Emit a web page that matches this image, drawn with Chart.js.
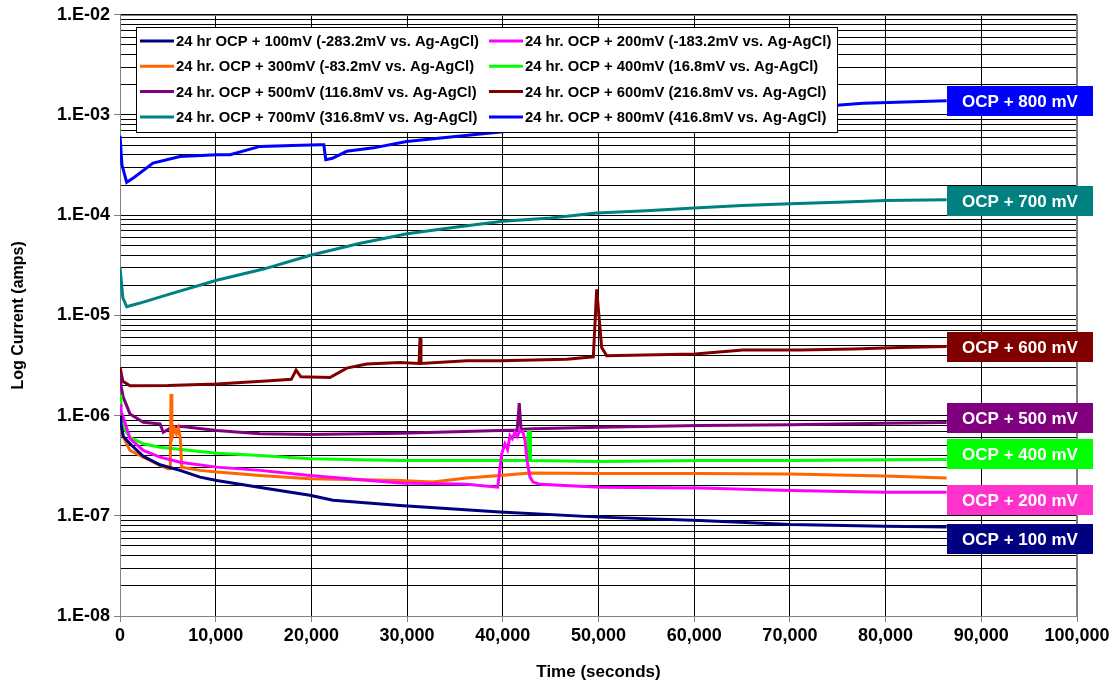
<!DOCTYPE html>
<html>
<head>
<meta charset="utf-8">
<script src="https://cdn.jsdelivr.net/npm/chart.js@4.4.1/dist/chart.umd.min.js"></script>
<style>
  html, body { margin: 0; padding: 0; background: #fff; }
  #chart { display: block; }
</style>
</head>
<body>
<canvas id="chart" width="1114" height="685"></canvas>
<script>
// ================= DATA (time in s, current in A) =================

const seriesNames = [
    '24 hr OCP + 100mV (-283.2mV vs. Ag-AgCl)',
    '24 hr. OCP + 200mV (-183.2mV vs. Ag-AgCl)',
    '24 hr. OCP + 300mV (-83.2mV vs. Ag-AgCl)',
    '24 hr. OCP + 400mV (16.8mV vs. Ag-AgCl)',
    '24 hr. OCP + 500mV (116.8mV vs. Ag-AgCl)',
    '24 hr. OCP + 600mV (216.8mV vs. Ag-AgCl)',
    '24 hr. OCP + 700mV (316.8mV vs. Ag-AgCl)',
    '24 hr. OCP + 800mV (416.8mV vs. Ag-AgCl)'
];
const seriesColors = ['#000080', '#FF00FF', '#FF6600', '#00FF00', '#800080', '#800000', '#008080', '#0000FF'];

// end-of-run tags on the right (no tag for the 300 mV run)
const tagTexts = ['OCP + 100 mV', 'OCP + 200 mV', null, 'OCP + 400 mV', 'OCP + 500 mV', 'OCP + 600 mV', 'OCP + 700 mV', 'OCP + 800 mV'];
const tagColors = ['#000080', '#FF33CC', null, '#00FF00', '#800080', '#800000', '#008080', '#0000FF'];

const t100 = [0, 100, 345, 1045, 2435, 4180, 6270, 8360, 10100, 15330, 19850, 22260, 29260, 39700, 50160, 60600, 70010, 79940, 86380];
const i100 = [1.0e-6, 8.3e-7, 6.2e-7, 5.23e-7, 3.93e-7, 3.23e-7, 2.84e-7, 2.43e-7, 2.25e-7, 1.87e-7, 1.60e-7, 1.43e-7, 1.27e-7, 1.09e-7, 9.7e-8, 9.0e-8, 8.17e-8, 7.87e-8, 7.74e-8];

const t200 = [0, 100, 345, 1045, 2435, 4180, 6270, 10100, 14630, 19850, 29260, 36230, 39470, 39880, 40230, 40500, 40750, 41000, 41270, 41500, 41800, 42110, 42320, 42530, 42840, 43160, 43890, 50160, 60600, 70010, 79940, 86380];
const i200 = [1.3e-6, 1.1e-6, 9.6e-7, 5.9e-7, 4.49e-7, 3.85e-7, 3.43e-7, 3.06e-7, 2.84e-7, 2.53e-7, 2.12e-7, 2.06e-7, 1.93e-7, 4.16e-7, 5.23e-7, 4.6e-7, 6.33e-7, 5.9e-7, 6.82e-7, 6.2e-7, 7.10e-7, 6.82e-7, 5.64e-7, 3.57e-7, 2.43e-7, 2.17e-7, 2.06e-7, 1.93e-7, 1.89e-7, 1.79e-7, 1.72e-7, 1.72e-7];

const t300 = [0, 100, 345, 1045, 2435, 4180, 5020, 5250, 5330, 5420, 5500, 5700, 5900, 6100, 6300, 6450, 8360, 10100, 14630, 19850, 29260, 32700, 36230, 39700, 42840, 50160, 60600, 70010, 79940, 86380];
const i300 = [8.3e-7, 7.0e-7, 6.08e-7, 4.49e-7, 3.85e-7, 3.18e-7, 2.94e-7, 2.94e-7, 1.64e-6, 7.65e-7, 6.3e-7, 7.4e-7, 6.6e-7, 7.5e-7, 6.0e-7, 3.06e-7, 2.84e-7, 2.73e-7, 2.53e-7, 2.34e-7, 2.25e-7, 2.17e-7, 2.38e-7, 2.53e-7, 2.67e-7, 2.64e-7, 2.64e-7, 2.62e-7, 2.49e-7, 2.38e-7];

const t400 = [0, 100, 345, 1045, 2435, 4180, 10100, 14630, 19850, 29260, 39700, 42600, 42650, 42850, 42900, 50160, 60600, 70010, 79940, 86380];
const i400 = [1.6e-6, 1.0e-6, 7.65e-7, 6.08e-7, 5.23e-7, 4.84e-7, 4.22e-7, 4.00e-7, 3.71e-7, 3.57e-7, 3.57e-7, 3.57e-7, 6.82e-7, 6.82e-7, 3.57e-7, 3.48e-7, 3.57e-7, 3.57e-7, 3.63e-7, 3.65e-7];

const t500 = [0, 100, 345, 1045, 2435, 4180, 4525, 5400, 6270, 10100, 14630, 19850, 29260, 39700, 41500, 41720, 41900, 43150, 50160, 60600, 70080, 79940, 86380];
const i500 = [2.62e-6, 2.0e-6, 1.52e-6, 1.04e-6, 8.57e-7, 8.26e-7, 6.82e-7, 7.65e-7, 7.83e-7, 7.10e-7, 6.58e-7, 6.47e-7, 6.67e-7, 7.10e-7, 7.2e-7, 1.33e-6, 7.3e-7, 7.38e-7, 7.65e-7, 7.95e-7, 8.10e-7, 8.39e-7, 8.51e-7];

const t600 = [0, 300, 1045, 5000, 10100, 15670, 17900, 18400, 18900, 21940, 23690, 25780, 29260, 31250, 31350, 31450, 36230, 39700, 46680, 49460, 49810, 50330, 50860, 60080, 65100, 71060, 76590, 81500, 86380];
const i600 = [3.03e-6, 2.2e-6, 1.99e-6, 2.0e-6, 2.07e-6, 2.23e-6, 2.3e-6, 2.85e-6, 2.44e-6, 2.40e-6, 2.98e-6, 3.27e-6, 3.39e-6, 3.31e-6, 5.93e-6, 3.31e-6, 3.52e-6, 3.52e-6, 3.66e-6, 3.86e-6, 1.82e-5, 4.78e-6, 3.95e-6, 4.11e-6, 4.51e-6, 4.51e-6, 4.61e-6, 4.78e-6, 4.90e-6];

const t700 = [0, 300, 700, 2000, 5000, 10100, 15000, 20000, 25000, 30000, 35000, 40000, 45000, 49800, 55000, 60000, 65000, 70000, 75000, 80000, 86380];
const i700 = [3.0e-5, 1.5e-5, 1.22e-5, 1.32e-5, 1.61e-5, 2.24e-5, 2.9e-5, 4.0e-5, 5.22e-5, 6.52e-5, 7.60e-5, 8.71e-5, 9.4e-5, 1.05e-4, 1.11e-4, 1.18e-4, 1.25e-4, 1.30e-4, 1.35e-4, 1.40e-4, 1.43e-4];

const t800 = [0, 200, 700, 1500, 3450, 6270, 10100, 11500, 14630, 18000, 20900, 21300, 21500, 22200, 23690, 26500, 29960, 33500, 36890, 45000, 55000, 65000, 75240, 77640, 81160, 86380];
const i800 = [6.2e-4, 3.2e-4, 2.13e-4, 2.39e-4, 3.31e-4, 3.86e-4, 4.02e-4, 4.02e-4, 4.86e-4, 4.95e-4, 5.05e-4, 5.05e-4, 3.58e-4, 3.7e-4, 4.34e-4, 4.7e-4, 5.44e-4, 5.9e-4, 6.35e-4, 7.6e-4, 9.2e-4, 1.1e-3, 1.26e-3, 1.31e-3, 1.34e-3, 1.39e-3];

const seriesTimes = [t100, t200, t300, t400, t500, t600, t700, t800];
const seriesCurrents = [i100, i200, i300, i400, i500, i600, i700, i800];

// axis ticks
const yDecades = [1e-8, 1e-7, 1e-6, 1e-5, 1e-4, 1e-3, 1e-2];
const yDecadeLabels = ['1.E-08', '1.E-07', '1.E-06', '1.E-05', '1.E-04', '1.E-03', '1.E-02'];
const xMin = 0, xMax = 100000, xStep = 10000;

// ================= CHART =================

const FONT = '"Liberation Sans", Arial, Helvetica, sans-serif';

// every 1..9 sub-decade gets a grid line, only the decades get a label
const yTickValues = [];
const yTickText = [];
yDecades.forEach((d, k) => {
    const steps = k === yDecades.length - 1 ? 1 : 9;
    for (let m = 1; m <= steps; m++) {
        yTickValues.push(m * d);
        yTickText.push(m === 1 ? yDecadeLabels[k] : '');
    }
});

const datasets = seriesNames.map((name, s) => ({
    label: name,
    data: seriesTimes[s].map((t, k) => ({x: t, y: seriesCurrents[s][k]})),
    borderColor: seriesColors[s],
    backgroundColor: seriesColors[s],
    borderWidth: 3,
    pointRadius: 0,
    tension: 0,
    fill: false
}));

// legend box drawn over the plot, like the Excel original
const boxLegend = {
    id: 'boxLegend',
    afterDraw(chart) {
        const ctx = chart.ctx;
        ctx.save();
        ctx.fillStyle = '#fff';
        ctx.fillRect(136, 27, 701, 105);
        ctx.strokeStyle = '#000';
        ctx.lineWidth = 1;
        ctx.strokeRect(136.5, 27.5, 701, 105);
        ctx.font = 'bold 14.8px ' + FONT;
        ctx.textBaseline = 'middle';
        chart.data.datasets.forEach((ds, i) => {
            const col = i % 2;
            const row = Math.floor(i / 2);
            const x = col === 0 ? 140 : 489;
            const y = 41 + row * 25.3;
            ctx.strokeStyle = ds.borderColor;
            ctx.lineWidth = 3;
            ctx.beginPath();
            ctx.moveTo(x, y);
            ctx.lineTo(x + 34, y);
            ctx.stroke();
            ctx.fillStyle = '#000';
            ctx.fillText(ds.label, x + 36, y + 1);
        });
        ctx.restore();
    }
};

// coloured tags at the end of each run; nudges keep them from overlapping
const endTags = {
    id: 'endTags',
    afterDraw(chart) {
        const ctx = chart.ctx;
        const xs = chart.scales.x, ys = chart.scales.y;
        const nudge = [12, 8, 0, -5, -5, 1, 1, 0];
        ctx.save();
        ctx.font = 'bold 17px ' + FONT;
        ctx.textAlign = 'center';
        ctx.textBaseline = 'middle';
        tagTexts.forEach((txt, s) => {
            if (!txt) return;
            const tt = seriesTimes[s], cc = seriesCurrents[s];
            const left = Math.round(xs.getPixelForValue(tt[tt.length - 1]));
            const cy = Math.round(ys.getPixelForValue(cc[cc.length - 1])) + nudge[s];
            ctx.fillStyle = tagColors[s];
            ctx.fillRect(left, cy - 15, 146, 30);
            ctx.fillStyle = '#fff';
            ctx.fillText(txt, left + 73, cy + 1);
        });
        ctx.restore();
    }
};

// grey frame round the plot area
const plotFrame = {
    id: 'plotFrame',
    beforeDatasetsDraw(chart) {
        const a = chart.chartArea, ctx = chart.ctx;
        ctx.save();
        ctx.strokeStyle = '#808080';
        ctx.lineWidth = 1;
        ctx.strokeRect(Math.round(a.left) + 0.5, Math.round(a.top) + 0.5, Math.round(a.right - a.left) - 1, Math.round(a.bottom - a.top));
        ctx.restore();
    }
};

Chart.defaults.font.family = FONT;
Chart.defaults.font.weight = 'bold';
Chart.defaults.color = '#000';

new Chart(document.getElementById('chart').getContext('2d'), {
    type: 'line',
    data: {datasets: datasets},
    options: {
        responsive: false,
        animation: false,
        devicePixelRatio: 1,
        layout: {padding: {top: 13, right: 37, left: 0, bottom: 0}},
        plugins: {
            legend: {display: false},
            tooltip: {enabled: false}
        },
        scales: {
            x: {
                type: 'linear',
                min: xMin,
                max: xMax,
                afterFit: (scale) => { scale.height = 69; },
                ticks: {
                    stepSize: xStep,
                    autoSkip: false,
                    maxRotation: 0,
                    padding: 3,
                    font: {size: 18, weight: 'bold'},
                    callback: (v) => Number(v).toLocaleString('en-US')
                },
                grid: {
                    color: (c) => (c.tick && c.tick.value === xMax ? '#808080' : '#000'),
                    lineWidth: 1,
                    tickLength: 6,
                    tickColor: '#808080'
                },
                border: {display: true, color: '#808080', width: 1},
                title: {
                    display: true,
                    text: 'Time (seconds)',
                    font: {size: 17, weight: 'bold'},
                    padding: {top: 0, bottom: 2}
                }
            },
            y: {
                type: 'logarithmic',
                min: yDecades[0],
                max: yDecades[yDecades.length - 1],
                afterFit: (scale) => { scale.width = 120; },
                afterBuildTicks: (scale) => { scale.ticks = yTickValues.map(v => ({value: v})); },
                ticks: {
                    autoSkip: false,
                    padding: 4,
                    font: {size: 18, weight: 'bold'},
                    callback: (v, i) => yTickText[i]
                },
                grid: {
                    color: '#000',
                    lineWidth: 1,
                    tickLength: 6,
                    tickColor: (c) => (yTickText[c.index] ? '#808080' : 'rgba(0,0,0,0)')
                },
                border: {display: true, color: '#808080', width: 1},
                title: {
                    display: true,
                    text: 'Log Current (amps)',
                    font: {size: 16, weight: 'bold'},
                    padding: {top: 9, bottom: 4}
                }
            }
        }
    },
    plugins: [plotFrame, boxLegend, endTags]
});
</script>
</body>
</html>
